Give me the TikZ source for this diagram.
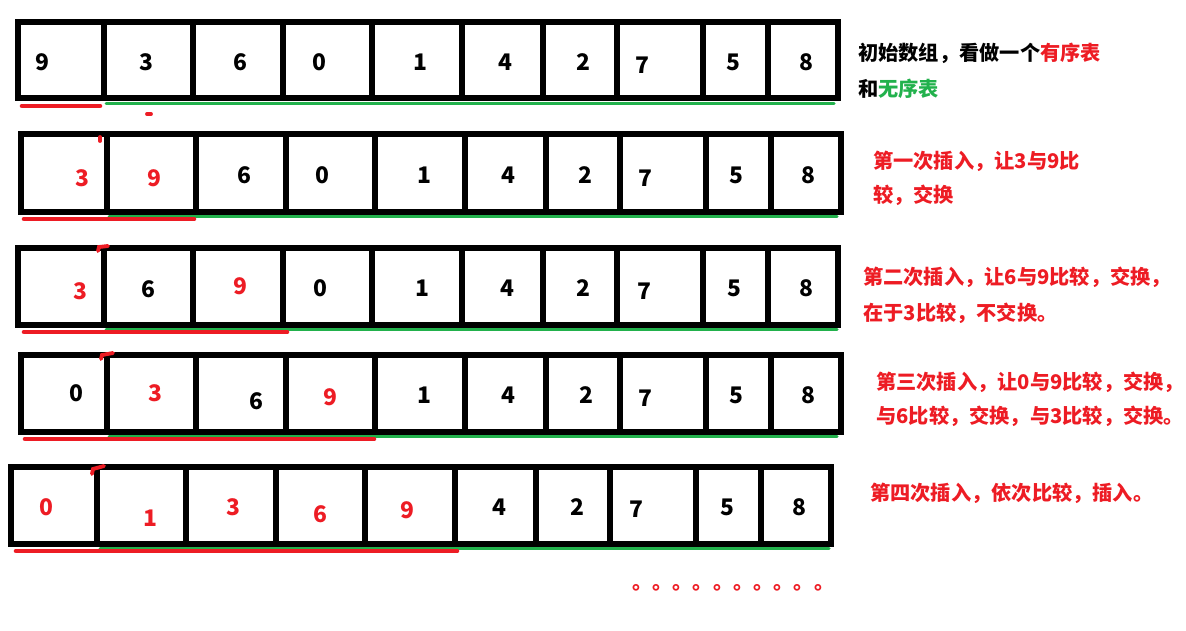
\documentclass[tikz,border=0pt]{standalone}
\usepackage{fontspec}
\newfontfamily\cjk{Noto Sans CJK SC}
\definecolor{paintred}{RGB}{237,28,36}
\definecolor{paintgreen}{RGB}{34,177,76}
\tikzset{
  cellnum/.style={font=\cjk\bfseries\fontsize{13}{15}\selectfont, inner sep=0pt},
  note/.style={font=\cjk\bfseries\fontsize{11.5}{14}\selectfont, text=paintred, anchor=west, inner sep=0pt},
  frame/.style={line width=3.4pt},
  ordered/.style={paintred, line width=2.6pt, line cap=round},
  unordered/.style={paintgreen, line width=1.7pt, line cap=round},
  flag/.style={paintred, line width=2.2pt, line cap=round}
}

\begin{document}
\begin{tikzpicture}[x=0.02cm,y=-0.02cm]
  \useasboundingbox (0,0) rectangle (1186,630);
  % the five arrays
  \foreach \r/\dx/\yt/\yb in {1/0/22/98, 2/3/134/212, 3/0/248/325, 4/3/355/432, 5/-7/467/544} {
    \draw[frame] (18+\dx,\yt) rectangle (838+\dx,\yb);
    \foreach \xx in {104,193,283,372,462,543,617,703,768}
      \draw[frame] (\xx+\dx,\yt) -- (\xx+\dx,\yb);
  }
  % numbers
  \foreach \v/\xx/\yy/\col [count=\i] in {9/42/62/black, 3/146/62/black, 6/240/62/black, 0/319/62/black, 1/420/62/black,
      4/505/62/black, 2/583/62/black, 7/642/65/black, 5/733/62/black, 8/806/62/black}
    \node[cellnum, text=\col] (a\i) at (\xx,\yy) {\v};
  \foreach \v/\xx/\yy/\col [count=\i] in {3/82/178/paintred, 9/154/178/paintred, 6/244/175/black, 0/322/175/black, 1/424/175/black,
      4/508/175/black, 2/585/175/black, 7/645/178/black, 5/736/175/black, 8/808/175/black}
    \node[cellnum, text=\col] (b\i) at (\xx,\yy) {\v};
  \foreach \v/\xx/\yy/\col [count=\i] in {3/80/291/paintred, 6/148/289/black, 9/240/286/paintred, 0/320/288/black, 1/422/288/black,
      4/507/288/black, 2/583/288/black, 7/644/291/black, 5/734/288/black, 8/806/288/black}
    \node[cellnum, text=\col] (c\i) at (\xx,\yy) {\v};
  \foreach \v/\xx/\yy/\col [count=\i] in {0/76/393/black, 3/155/393/paintred, 6/256/401/black, 9/330/397/paintred, 1/424/395/black,
      4/508/395/black, 2/586/395/black, 7/645/398/black, 5/736/395/black, 8/808/395/black}
    \node[cellnum, text=\col] (d\i) at (\xx,\yy) {\v};
  \foreach \v/\xx/\yy/\col [count=\i] in {0/46/507/paintred, 1/150/518/paintred, 3/233/507/paintred, 6/320/514/paintred, 9/407/510/paintred,
      4/499/507/black, 2/577/507/black, 7/636/509/black, 5/727/507/black, 8/799/507/black}
    \node[cellnum, text=\col] (e\i) at (\xx,\yy) {\v};
  % ordered (red) and unordered (green) parts
  \foreach \ys/\yo/\rs/\re/\gs/\ge in {106/103/22/100/106/834, 219/216/24/194/109/837, 332/329/24/287/106/837,
      439/436/25/374/109/837, 551/548/16/457/100/829} {
    \draw[unordered] (\gs,\yo) -- (\ge,\yo);
    \draw[ordered] (\rs,\ys) -- (\re,\ys);
  }
  % little red marks
  \draw[flag] (147,114) -- (151,114);
  \draw[flag] (100,137) -- (100,141);
  \draw[flag] (98,251) -- (99,247) -- (108,246);
  \draw[flag] (101,359) -- (102,355) -- (113,353);
  \draw[flag] (92,474) -- (93,469) -- (104,466);
  % notes
  \node[note, text=black] (n1a) at (858,53) {初始数组，看做一个\textcolor{paintred}{有序表}};
  \node[note, text=black] (n1b) at (858,89) {和\textcolor{paintgreen}{无序表}};
  \node[note] (n2a) at (873,161) {第一次插入，让3与9比};
  \node[note] (n2b) at (873,195) {较，交换};
  \node[note] (n3a) at (863,277) {第二次插入，让6与9比较，交换，};
  \node[note] (n3b) at (863,313) {在于3比较，不交换。};
  \node[note] (n4a) at (876,382) {第三次插入，让0与9比较，交换，};
  \node[note] (n4b) at (876,416) {与6比较，交换，与3比较，交换。};
  \node[note] (n5) at (870,493) {第四次插入，依次比较，插入。};
  \node[note] (more) at (632,588) {。。。。。。。。。。};
\end{tikzpicture}
\end{document}
